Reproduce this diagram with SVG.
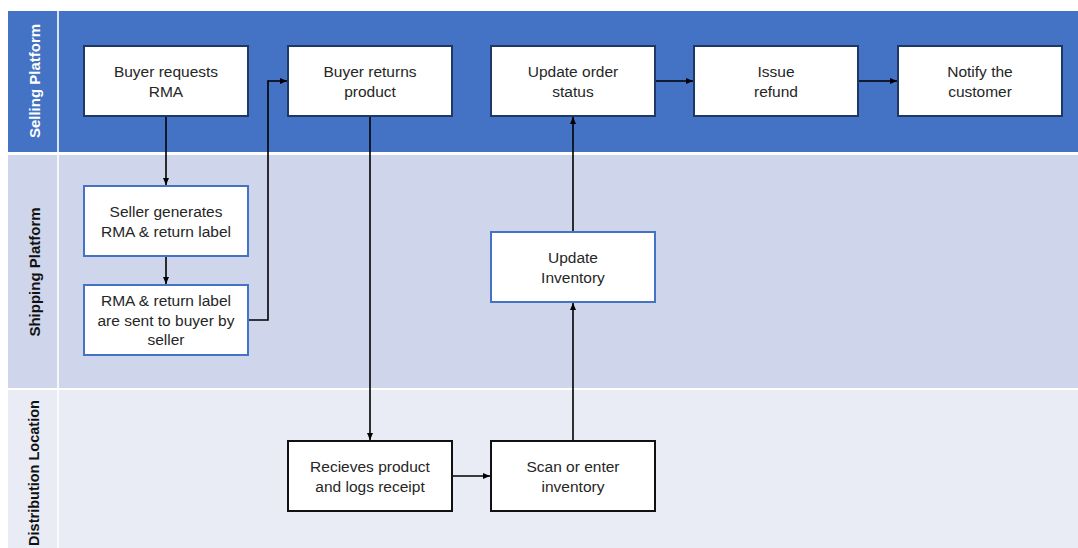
<svg xmlns="http://www.w3.org/2000/svg" width="1078" height="548" viewBox="0 0 1078 548">
<style>
.lane-label{font-family:"Liberation Sans",Arial,sans-serif;font-weight:bold;font-size:15px;text-anchor:middle;dominant-baseline:central}
.t{font-family:"Liberation Sans",Arial,sans-serif;font-size:15.5px;fill:#262626;text-anchor:middle}
.box-navy{fill:#fff;stroke:#1F3864;stroke-width:2}
.box-blue{fill:#fff;stroke:#4472C4;stroke-width:2}
.box-black{fill:#fff;stroke:#111;stroke-width:2}
.conn{fill:none;stroke:#000;stroke-width:1.6}
</style>
<defs>
<marker id="arr" markerWidth="8" markerHeight="8" refX="7" refY="4" orient="auto" markerUnits="userSpaceOnUse">
<path d="M0,1 L7,4 L0,7 Z" fill="#000"/>
</marker>
</defs>
<rect width="1078" height="548" fill="#fff"/>
<g id="lanes">
<rect x="8" y="11" width="1070" height="141" fill="#4472C4"/>
<rect x="8" y="155" width="1070" height="233" fill="#CFD5EA"/>
<rect x="8" y="390" width="1070" height="158" fill="#E9EBF5"/>
<rect x="57" y="11" width="2" height="537" fill="#fff" opacity="0.8"/>
<text class="lane-label" fill="#fff" transform="translate(34,81) rotate(-90)">Selling Platform</text>
<text class="lane-label" fill="#111" transform="translate(34,272) rotate(-90)">Shipping Platform</text>
<text class="lane-label" fill="#111" style="font-size:14.5px" transform="translate(34,473) rotate(-90)">Distribution Location</text>
</g>
<g id="n1"><rect class="box-navy" x="84" y="46" width="164" height="70"/><text class="t" x="166" y="77">Buyer requests</text><text class="t" x="166" y="97">RMA</text></g>
<g id="n2"><rect class="box-navy" x="288" y="46" width="164" height="70"/><text class="t" x="370" y="77">Buyer returns</text><text class="t" x="370" y="97">product</text></g>
<g id="n3"><rect class="box-navy" x="491" y="46" width="164" height="70"/><text class="t" x="573" y="77">Update order</text><text class="t" x="573" y="97">status</text></g>
<g id="n4"><rect class="box-navy" x="694" y="46" width="164" height="70"/><text class="t" x="776" y="77">Issue</text><text class="t" x="776" y="97">refund</text></g>
<g id="n5"><rect class="box-navy" x="898" y="46" width="164" height="70"/><text class="t" x="980" y="77">Notify the</text><text class="t" x="980" y="97">customer</text></g>
<g id="n6"><rect class="box-blue" x="84" y="186" width="164" height="70"/><text class="t" x="166" y="217">Seller generates</text><text class="t" x="166" y="237">RMA &amp; return label</text></g>
<g id="n7"><rect class="box-blue" x="84" y="285" width="164" height="70"/><text class="t" x="166" y="306">RMA &amp; return label</text><text class="t" x="166" y="326">are sent to buyer by</text><text class="t" x="166" y="345">seller</text></g>
<g id="n8"><rect class="box-blue" x="491" y="232" width="164" height="70"/><text class="t" x="573" y="263">Update</text><text class="t" x="573" y="283">Inventory</text></g>
<g id="n9"><rect class="box-black" x="288" y="441" width="164" height="70"/><text class="t" x="370" y="472">Recieves product</text><text class="t" x="370" y="492">and logs receipt</text></g>
<g id="n10"><rect class="box-black" x="491" y="441" width="164" height="70"/><text class="t" x="573" y="472">Scan or enter</text><text class="t" x="573" y="492">inventory</text></g>
<g id="connectors">
<path class="conn" d="M166,117 V185" marker-end="url(#arr)"/>
<path class="conn" d="M166,257 V284" marker-end="url(#arr)"/>
<path class="conn" d="M249,320 H268 V81 H287" marker-end="url(#arr)"/>
<path class="conn" d="M370,117 V440" marker-end="url(#arr)"/>
<path class="conn" d="M453,476 H490" marker-end="url(#arr)"/>
<path class="conn" d="M573,440 V303" marker-end="url(#arr)"/>
<path class="conn" d="M573,231 V117" marker-end="url(#arr)"/>
<path class="conn" d="M656,81 H693" marker-end="url(#arr)"/>
<path class="conn" d="M859,81 H897" marker-end="url(#arr)"/>
</g>
</svg>
